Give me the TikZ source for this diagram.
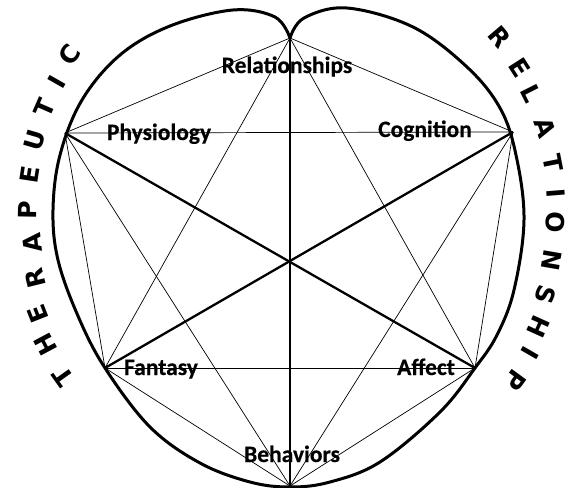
\documentclass[tikz,border=0pt]{standalone}
\usepackage{fontspec}
\setmainfont{Carlito}[BoldFeatures={FakeBold=0.4}]
\newfontfamily\arcfont{DejaVu Sans}
\begin{document}
\begin{tikzpicture}[x=1pt,y=-1pt,
  outline/.style={line width=3pt, line join=round, line cap=round},
  heavyline/.style={line width=2.3pt},
  thinline/.style={line width=0.7pt},
  lbl/.style={font=\bfseries\fontsize{23.5}{24}\selectfont, anchor=base, inner sep=0pt},
  arcl/.style={font=\arcfont\bfseries\fontsize{25}{25}\selectfont, inner sep=0pt}
]
\useasboundingbox (0,0) rectangle (566,488);
\fill[white] (0,0) rectangle (566,488);

\coordinate (R) at (290,38);
\coordinate (P) at (65,133);
\coordinate (C) at (513,132);
\coordinate (F) at (105,368);
\coordinate (A) at (475,368);
\coordinate (B) at (290,486);

% outline (heart-like)
\draw[outline] plot[smooth, tension=0.6] coordinates {
  (290,38) (304,18) (347,8) (413,27) (467,67) (500,108) (516,155) (524,220)
  (514,290) (497,335) (475,368) (440,412) (380,462) (330,482) (290,487)
  (250,482) (200,463) (150,427) (105,368) (78,316) (58,260) (53,210) (60,155)
  (82,100) (120,55) (170,26) (233,10) (275,17) (290,38)};

% thin connectors
\foreach \a/\b in {R/P, R/C, R/F, R/A, P/C, P/F, P/B, C/A, C/B, F/A, F/B, A/B}
  \draw[thinline] (\a) -- (\b);
% heavy connectors
\draw[heavyline] (R) -- (B);
\draw[heavyline] (P) -- (A);
\draw[heavyline] (C) -- (F);

% labels
\node[lbl] (lrel) at (287,73) {Relationships};
\node[lbl] (lphy) at (159,140) {Physiology};
\node[lbl] (lcog) at (425,137) {Cognition};
\node[lbl] (lfan) at (161,375) {Fantasy};
\node[lbl] (laff) at (426,375) {Affect};
\node[lbl] (lbeh) at (292,462) {Behaviors};

% arc letters
\foreach \ch/\px/\py [count=\i] in {T/63/377, H/46/345, E/38/314, R/35/278, A/32/243, P/28/210,
    E/30/175, U/35/140, T/45/108, I/57/82, C/70/55} {
  \pgfmathsetmacro\ang{atan2(215-\py,\px-290)-90}
  \node[arcl, rotate=\ang] (lt\i) at (\px,\py) {\ch};
}
\foreach \ch/\px/\py [count=\i] in {R/500/37, E/520/68, L/531/94, A/545/128, T/553/163, I/556/193,
    O/555/222, N/552/260, S/545/295, H/538/327, I/530/353, P/515/380} {
  \pgfmathsetmacro\ang{atan2(215-\py,\px-290)-90}
  \node[arcl, rotate=\ang] (rt\i) at (\px,\py) {\ch};
}
\end{tikzpicture}
\end{document}
